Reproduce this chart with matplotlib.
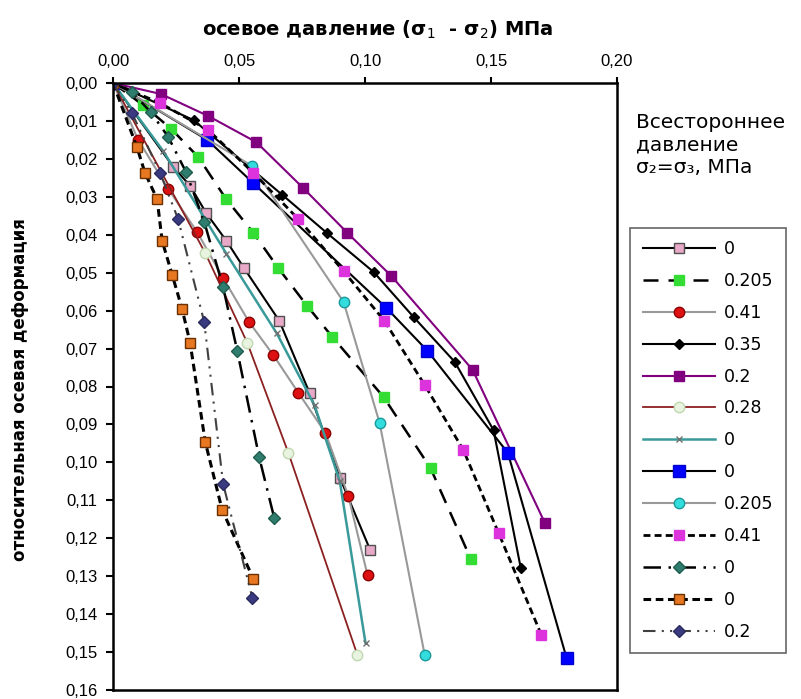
import matplotlib
matplotlib.use("Agg")
import matplotlib.pyplot as plt
from matplotlib.ticker import FuncFormatter, MultipleLocator

plt.rcParams['font.family'] = ['Liberation Sans', 'DejaVu Sans']

# axial pressure (sigma1 - sigma2), MPa  /  relative axial strain
pink_x = [0, 0.0239, 0.0306, 0.037, 0.045, 0.052, 0.066, 0.078, 0.090, 0.102]
pink_y = [0, 0.0221, 0.0271, 0.0343, 0.0416, 0.0488, 0.0627, 0.0817, 0.104, 0.123]

green_x = [0, 0.0119, 0.0231, 0.0338, 0.0449, 0.0557, 0.0656, 0.0771, 0.087, 0.1074, 0.126, 0.142]
green_y = [0, 0.0058, 0.0121, 0.0195, 0.0306, 0.0395, 0.0488, 0.0588, 0.0669, 0.0828, 0.1015, 0.1255]

red_x = [0, 0.010, 0.0219, 0.0334, 0.0437, 0.054, 0.0636, 0.0736, 0.0843, 0.0934, 0.101]
red_y = [0, 0.015, 0.0279, 0.0393, 0.0514, 0.063, 0.0717, 0.0817, 0.0922, 0.1089, 0.1297]

black_x = [0, 0.032, 0.0672, 0.085, 0.1034, 0.1193, 0.1356, 0.151, 0.1618]
black_y = [0, 0.0098, 0.0295, 0.0396, 0.0498, 0.0617, 0.0735, 0.0915, 0.1278]

purple_x = [0, 0.019, 0.0378, 0.0569, 0.0755, 0.093, 0.1105, 0.1427, 0.1714]
purple_y = [0, 0.0029, 0.0087, 0.0156, 0.0277, 0.0395, 0.0509, 0.0756, 0.116]

pale_x = [0, 0.0366, 0.0533, 0.0696, 0.097]
pale_y = [0, 0.0448, 0.0685, 0.0975, 0.1508]

teal_x = [0, 0.02, 0.045, 0.065, 0.08, 0.09, 0.1002]
teal_y = [0, 0.018, 0.045, 0.066, 0.085, 0.105, 0.1476]

blue_x = [0, 0.0374, 0.0557, 0.1085, 0.1248, 0.1567, 0.180]
blue_y = [0, 0.015, 0.0264, 0.0593, 0.0706, 0.0975, 0.1516]

cyan_x = [0, 0.0553, 0.0915, 0.1058, 0.1237]
cyan_y = [0, 0.0219, 0.0577, 0.0896, 0.1508]

magenta_x = [0, 0.0187, 0.0378, 0.0557, 0.0736, 0.0915, 0.1077, 0.1237, 0.139, 0.153, 0.170]
magenta_y = [0, 0.0053, 0.0124, 0.0237, 0.0359, 0.0496, 0.0627, 0.0796, 0.0967, 0.1186, 0.1455]

dteal_x = [0, 0.0075, 0.015, 0.0219, 0.029, 0.0362, 0.0437, 0.0493, 0.058, 0.064]
dteal_y = [0, 0.0024, 0.0077, 0.0142, 0.0235, 0.0366, 0.0538, 0.0706, 0.0986, 0.1147]

orange_x = [0, 0.0095, 0.0127, 0.0175, 0.0195, 0.0235, 0.0274, 0.0306, 0.0366, 0.0433, 0.0557]
orange_y = [0, 0.0169, 0.0237, 0.0306, 0.0416, 0.0506, 0.0595, 0.0685, 0.0946, 0.1125, 0.1307]

navy_x = [0, 0.0075, 0.0187, 0.0258, 0.0362, 0.0437, 0.0553]
navy_y = [0, 0.0079, 0.0237, 0.0358, 0.063, 0.1057, 0.1357]

fig = plt.figure(figsize=(8.01, 6.99), dpi=100)
ax = fig.add_axes([113 / 801, 1 - 690 / 699, 504 / 801, 607 / 699])

ms = 7.5
ax.plot(pink_x, pink_y, color='black', lw=1.5, marker='s', ms=ms,
        mfc='#E8A8C8', mec='#505050', label='0')
ax.plot(green_x, green_y, color='black', lw=1.8, ls=(0, (6, 4)), marker='s', ms=ms,
        mfc='#33DD33', mec='#33DD33', label='0.205')
ax.plot(red_x, red_y, color='#999999', lw=1.5, marker='o', ms=ms,
        mfc='#DD1111', mec='#8B0000', label='0.41')
ax.plot(black_x, black_y, color='black', lw=1.5, marker='D', ms=5,
        mfc='black', mec='black', label='0.35')
ax.plot(purple_x, purple_y, color='#800080', lw=1.5, marker='s', ms=ms,
        mfc='#800080', mec='#800080', label='0.2')
ax.plot(pale_x, pale_y, color='#8B2020', lw=1.3, marker='o', ms=ms,
        mfc='#E8F4E0', mec='#C0D8B0', label='0.28')
ax.plot(teal_x, teal_y, color='#3A9A9A', lw=1.8, marker='x', ms=4,
        mec='#707070', label='0')
ax.plot(blue_x, blue_y, color='black', lw=1.5, marker='s', ms=ms + 1,
        mfc='#0000FF', mec='#0000CC', label='0')
ax.plot(cyan_x, cyan_y, color='#999999', lw=1.5, marker='o', ms=ms,
        mfc='#33DDDD', mec='#1A9A9A', label='0.205')
ax.plot(magenta_x, magenta_y, color='black', lw=2, ls=(0, (2.5, 1.5)), marker='s', ms=ms,
        mfc='#DD33DD', mec='#DD33DD', label='0.41')
ax.plot(dteal_x, dteal_y, color='black', lw=1.8, ls=(0, (7, 3, 1, 3)), marker='D', ms=6,
        mfc='#2E7D6E', mec='#1E5D4E', label='0')
ax.plot(orange_x, orange_y, color='black', lw=2.2, ls=(0, (2.5, 1.5)), marker='s', ms=ms,
        mfc='#E87722', mec='#6A3000', label='0')
ax.plot(navy_x, navy_y, color='#404040', lw=1.5, ls=(0, (6, 3, 1, 3, 1, 3)), marker='D', ms=6,
        mfc='#3A3A80', mec='#2A2A60', label='0.2')

ax.set_xlim(0, 0.20)
ax.set_ylim(0.16, 0)
ax.xaxis.set_major_locator(MultipleLocator(0.05))
ax.yaxis.set_major_locator(MultipleLocator(0.01))
fmt = FuncFormatter(lambda v, p: f"{v:.2f}".replace('.', ','))
ax.xaxis.set_major_formatter(fmt)
ax.yaxis.set_major_formatter(fmt)
ax.xaxis.tick_top()
ax.tick_params(axis='x', direction='out', length=4, width=1.5, labelsize=12, pad=6)
ax.tick_params(axis='y', direction='out', length=5, width=1.5, labelsize=12, pad=6)
for s in ax.spines.values():
    s.set_linewidth(1.8)

fig.text(0.472, 0.958, "осевое давление (σ$_1$  - σ$_2$) МПа", ha='center', va='center',
         fontsize=14, fontweight='bold', family='DejaVu Sans')
fig.text(0.025, 0.442, "относительная осевая деформация", rotation=90, ha='center', va='center',
         fontsize=12, fontweight='bold', family=['Liberation Sans Narrow', 'DejaVu Sans'])
fig.text(0.794, 0.838, "Всестороннее\nдавление\nσ₂=σ₃, МПа", ha='left', va='top',
         fontsize=14.5, linespacing=1.22, family='DejaVu Sans')

leg = fig.legend(loc='upper left', bbox_to_anchor=(0.787, 0.674),
                 prop={'family': 'DejaVu Sans', 'size': 12.5},
                 handlelength=4.2, labelspacing=0.8, fancybox=False, edgecolor='#404040',
                 borderpad=0.7, handletextpad=0.5, borderaxespad=0)
leg.get_frame().set_linewidth(1.2)

fig.savefig("out.png", dpi=100)
